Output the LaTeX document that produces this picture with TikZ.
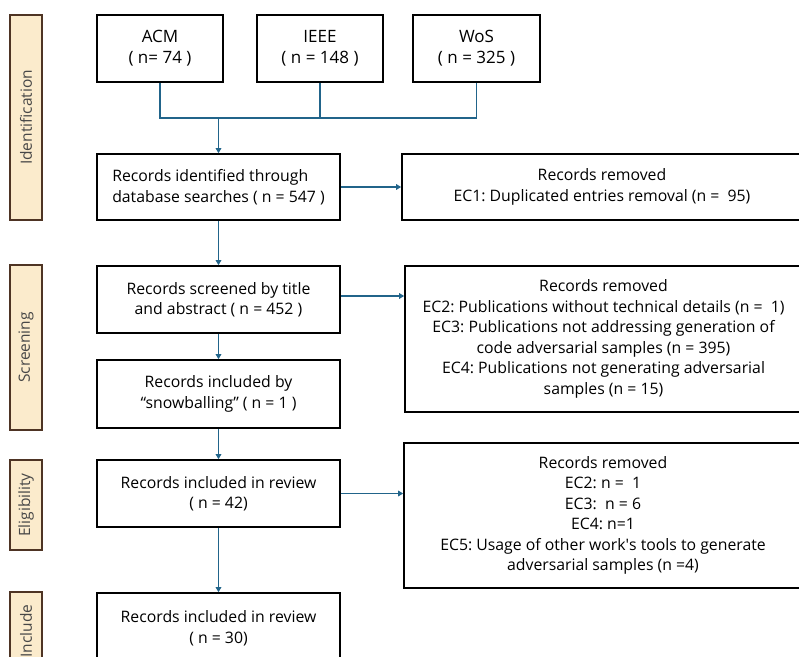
\documentclass[tikz,border=0pt]{standalone}
\usepackage{fontspec}
\setmainfont{Open Sans}
\usetikzlibrary{arrows.meta,positioning}
\definecolor{linkblue}{RGB}{33,100,138}
\definecolor{phasefill}{RGB}{251,235,204}
\definecolor{phaseline}{RGB}{78,52,36}
\frenchspacing
\tikzset{
  box/.style={draw=black,line width=1.6pt,align=center,inner sep=0pt,
    font=\fontsize{15.8}{20.5}\selectfont},
  srcbox/.style={box,minimum height=67,font=\fontsize{17}{21}\selectfont},
  phase/.style={draw=phaseline,fill=phasefill,line width=1.6pt,rotate=90,inner sep=0pt,
    minimum height=32,text=black!72,font=\fontsize{15.5}{18}\selectfont},
  link/.style={draw=linkblue,line width=1.5pt},
  arr/.style={link,-{Triangle[length=5pt,width=5.5pt]}}
}
\begin{document}
\begin{tikzpicture}[x=1pt,y=1pt]
\useasboundingbox (0,0) rectangle (799,-656);
% phases
\node[phase,minimum width=205] (pid) at (26,-117.5) {Identification};
\node[phase,minimum width=165] (psc) at (26,-347.5) {Screening};
\node[phase,minimum width=90] (pel) at (26,-505) {Eligibility};
\node[phase,minimum width=78] (pin) at (26,-631) {Include};
% sources
\node[srcbox,minimum width=126] (acm) at (160,-48.5) {ACM\\( n= 74 )};
\node[srcbox,minimum width=126] (ieee) at (320,-48.5) {IEEE\\( n = 148 )};
\node[srcbox,minimum width=127] (wos) at (476.5,-48.5) {WoS\\( n = 325 )};
% main column
\node[box,minimum width=243,minimum height=66,align=left] (ident) at (218.5,-187) {Records identified through\\database searches ( n = 547 )};
\node[box,minimum width=243,minimum height=67] (screen) at (218.5,-299.5) {Records screened by title\\and abstract ( n = 452 )};
\node[box,minimum width=243,minimum height=68] (snow) at (218.5,-394) {Records included by\\``snowballing'' ( n = 1 )};
\node[box,minimum width=243,minimum height=67] (review) at (218.5,-493.5) {Records included in review\\( n = 42)};
\node[box,minimum width=243,minimum height=70] (final) at (218.5,-628) {Records included in review\\( n = 30)};
% removed
\node[box,minimum width=400,minimum height=66] (rem1) at (602,-187) {Records removed\\EC1: Duplicated entries removal (n =~~95)};
\node[box,minimum width=397,minimum height=146] (rem2) at (603.5,-339) {Records removed\\EC2: Publications without technical details (n =~~1)\\EC3: Publications not addressing generation of\\code adversarial samples (n = 395)\\EC4: Publications not generating adversarial\\samples (n = 15)};
\node[box,minimum width=398,minimum height=145] (rem3) at (603,-515.5) {Records removed\\EC2: n =~~1\\EC3:~~n = 6\\EC4: n=1\\EC5: Usage of other work\textquotesingle s tools to generate\\adversarial samples (n =4)};
% connectors
\coordinate (join) at (218.5,-118);
\draw[link] (acm.south) |- (wos.south |- join) -- (wos.south);
\draw[link] (ieee.south) -- (ieee.south |- join);
\draw[arr] (join) -- (ident.north);
\draw[arr] (ident.east) -- (rem1.west);
\draw[arr] (ident.south) -- (screen.north);
\draw[arr] ([yshift=3.5]screen.east) -- ([yshift=3.5]screen.east -| rem2.west);
\draw[arr] (screen.south) -- (snow.north);
\draw[arr] (snow.south) -- (review.north);
\draw[arr] (review.east) -- (review.east -| rem3.west);
\draw[arr] (review.south) -- (final.north);
\end{tikzpicture}
\end{document}
